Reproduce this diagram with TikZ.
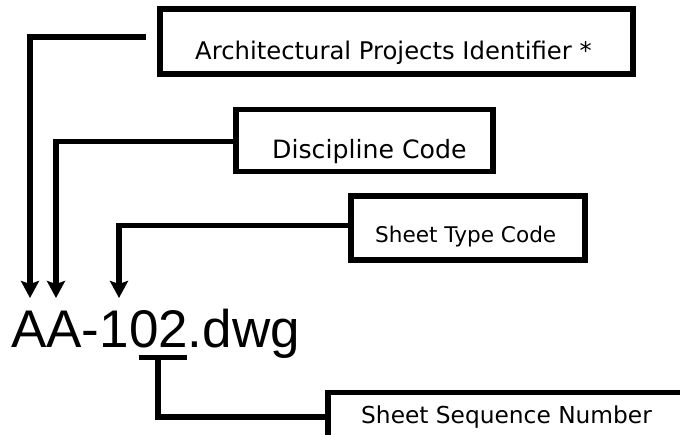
\documentclass[tikz,border=0pt]{standalone}
\usepackage{fontspec}
\setmainfont{DejaVu Sans}
\newfontfamily\arialfont{Liberation Sans}
\usetikzlibrary{arrows.meta}
\tikzset{
  box/.style={draw=black, line width=5.5pt, rectangle, inner sep=0pt, fill=white},
  conn/.style={draw=black, line width=5.2pt, line join=miter},
  arr/.style={conn, -{Stealth[length=17pt,width=18pt,inset=3pt]}},
  lbl/.style={inner sep=0pt, anchor=base west, text=black},
}
\begin{document}
\begin{tikzpicture}[x=1pt,y=-1pt]
\useasboundingbox (0,0) rectangle (680,435);
\clip (0,0) rectangle (680,435);
% boxes
\node[box, minimum width=473pt, minimum height=65pt] (b1) at (396.5,41.5) {};
\node[box, minimum width=257pt, minimum height=62pt] (b2) at (364.5,140.5) {};
\node[box, minimum width=234pt, minimum height=64pt] (b3) at (468,228) {};
\node[box, minimum width=420pt, minimum height=120pt, anchor=north west] (b4) at (325,390) {};
% labels
\node[lbl, font=\fontsize{24.3}{28}\selectfont] (t1) at (195,60) {Architectural Projects Identifier *};
\node[lbl, font=\fontsize{25.2}{30}\selectfont] (t2) at (272,159) {Discipline Code};
\node[lbl, font=\fontsize{21.6}{26}\selectfont] (t3) at (375,243) {Sheet Type Code};
\node[lbl, font=\fontsize{23.3}{28}\selectfont] (t4) at (361,423) {Sheet Sequence Number};
% file name
\node[lbl, font=\arialfont\fontsize{53}{60}\selectfont] (fn) at (11,348) {AA-102.dwg};
% arrow targets and underline
\coordinate (tip1) at (30,298);
\coordinate (tip2) at (56,298);
\coordinate (tip3) at (119,298);
\coordinate (ulL) at (139,357.5);
\coordinate (ulR) at (187,357.5);
\coordinate (ulM) at (158,357.5);
% connectors
\draw[arr] ([xshift=-11pt,yshift=4.5pt]b1.west) -| (tip1);
\draw[arr] ([yshift=-1pt]b2.west) -| (tip2);
\draw[arr] ([yshift=2.5pt]b3.west) -| (tip3);
\draw[conn] (ulL) -- (ulR);
\draw[conn] (ulM) |- ([yshift=-27pt]b4.north west);
\end{tikzpicture}
\end{document}
